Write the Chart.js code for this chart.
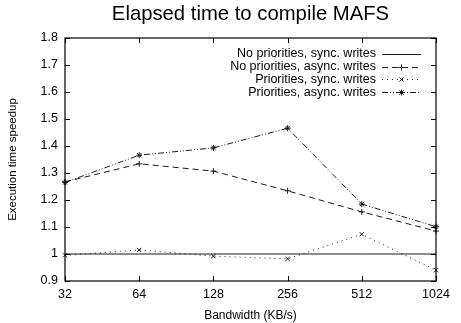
<!DOCTYPE html>
<html>
<head>
<meta charset="utf-8">
<script src="https://cdn.jsdelivr.net/npm/chart.js@4/dist/chart.umd.min.js"></script>
<style>
  html, body { margin: 0; padding: 0; background: #fff; }
  #wrap { width: 461px; height: 323px; }
</style>
</head>
<body>
<div id="wrap"><canvas id="grafico" width="461" height="323"></canvas></div>
<script>
// datos
const bandwidth = ['32', '64', '128', '256', '512', '1024'];
const noPrioSync = [1.0, 1.0, 1.0, 1.0, 1.0, 1.0];
const noPrioAsync = [1.267, 1.334, 1.307, 1.234, 1.156, 1.085];
const prioSync = [0.995, 1.015, 0.992, 0.982, 1.073, 0.94];
const prioAsync = [1.265, 1.366, 1.393, 1.466, 1.185, 1.101];
const yTicks = [0.9, 1.0, 1.1, 1.2, 1.3, 1.4, 1.5, 1.6, 1.7, 1.8];

const titulo = 'Elapsed time to compile MAFS';
const fuente = '"Liberation Sans", Arial, Helvetica, sans-serif';
const tinta = '#1a1a1a';

// titulo, ticks hacia adentro y leyenda estilo gnuplot
const estiloGnuplot = {
  id: 'estiloGnuplot',
  afterDraw(chart) {
    const ctx = chart.ctx;
    const a = chart.chartArea;
    const x = chart.scales.x;
    const y = chart.scales.y;
    ctx.save();

    ctx.fillStyle = '#000';
    ctx.font = '20.3px ' + fuente;
    ctx.textAlign = 'center';
    ctx.textBaseline = 'middle';
    ctx.fillText(titulo, (a.left + a.right) / 2, 14);

    ctx.strokeStyle = '#000';
    ctx.lineWidth = 1;
    ctx.beginPath();
    yTicks.forEach(v => {
      const py = Math.round(y.getPixelForValue(v)) + 0.5;
      ctx.moveTo(a.left, py); ctx.lineTo(a.left + 5, py);
      ctx.moveTo(a.right, py); ctx.lineTo(a.right - 5, py);
    });
    bandwidth.forEach((b, i) => {
      const px = Math.round(x.getPixelForValue(i)) + 0.5;
      ctx.moveTo(px, a.bottom); ctx.lineTo(px, a.bottom - 5);
      ctx.moveTo(px, a.top); ctx.lineTo(px, a.top + 5);
    });
    ctx.stroke();
    ctx.lineWidth = 1.2;
    ctx.strokeRect(a.left, a.top, a.right - a.left, a.bottom - a.top);

    // leyenda
    ctx.font = '12.5px ' + fuente;
    ctx.textAlign = 'right';
    const textoX = 376;
    const x0 = 382, x1 = 421;
    chart.data.datasets.forEach((ds, i) => {
      const py = 54 + i * 12.7;
      ctx.fillStyle = '#000';
      ctx.fillText(ds.label, textoX, py);
      ctx.strokeStyle = tinta;
      ctx.lineWidth = 1;
      ctx.setLineDash(ds.borderDash || []);
      ctx.beginPath();
      ctx.moveTo(x0, Math.round(py) + 0.5);
      ctx.lineTo(x1, Math.round(py) + 0.5);
      ctx.stroke();
      ctx.setLineDash([]);
      if (ds.pointStyle && ds.pointRadius > 0) {
        Chart.helpers.drawPoint(ctx, {
          pointStyle: ds.pointStyle, radius: ds.pointRadius, rotation: 0, borderWidth: 1
        }, (x0 + x1) / 2, Math.round(py) + 0.5);
      }
    });
    ctx.restore();
  }
};

const ctx = document.getElementById('grafico').getContext('2d');
new Chart(ctx, {
  type: 'line',
  data: {
    labels: bandwidth,
    datasets: [
      {
        label: 'No priorities, sync. writes',
        data: noPrioSync,
        borderColor: tinta,
        borderWidth: 1,
        pointRadius: 0
      },
      {
        label: 'No priorities, async. writes',
        data: noPrioAsync,
        borderColor: tinta,
        borderWidth: 1,
        borderDash: [6, 4],
        pointStyle: 'cross',
        pointRadius: 3,
        pointBorderColor: tinta
      },
      {
        label: 'Priorities, sync. writes',
        data: prioSync,
        borderColor: tinta,
        borderWidth: 1,
        borderDash: [1, 4],
        pointStyle: 'crossRot',
        pointRadius: 3,
        pointBorderColor: tinta
      },
      {
        label: 'Priorities, async. writes',
        data: prioAsync,
        borderColor: tinta,
        borderWidth: 1,
        borderDash: [6, 2, 1, 2, 1, 2],
        pointStyle: 'star',
        pointRadius: 3,
        pointBorderColor: tinta
      }
    ]
  },
  options: {
    responsive: false,
    animation: false,
    layout: { padding: { left: 0, right: 25, top: 38, bottom: 0 } },
    plugins: {
      legend: { display: false },
      title: { display: false },
      tooltip: { enabled: false }
    },
    elements: { line: { tension: 0 } },
    scales: {
      x: {
        offset: false,
        grid: { display: false, drawTicks: false },
        border: { display: false },
        ticks: { color: '#000', font: { family: fuente, size: 12.5 }, padding: 6, maxRotation: 0 },
        title: { display: true, text: 'Bandwidth (KB/s)', color: '#000', font: { family: fuente, size: 12 }, padding: { top: 0, bottom: 0 } },
        afterFit(scale) { scale.height = 42; }
      },
      y: {
        min: 0.9,
        max: 1.8,
        afterBuildTicks(scale) { scale.ticks = yTicks.map(v => ({ value: v })); },
        grid: { display: false, drawTicks: false },
        border: { display: false },
        ticks: {
          color: '#000',
          font: { family: fuente, size: 12.5 },
          padding: 7,
          callback: v => (Math.round(v * 10) / 10).toString()
        },
        title: { display: true, text: 'Execution time speedup', color: '#000', font: { family: fuente, size: 11.5 }, padding: { top: 6, bottom: 0 } },
        afterFit(scale) { scale.width = 65; }
      }
    }
  },
  plugins: [estiloGnuplot]
});
</script>
</body>
</html>
